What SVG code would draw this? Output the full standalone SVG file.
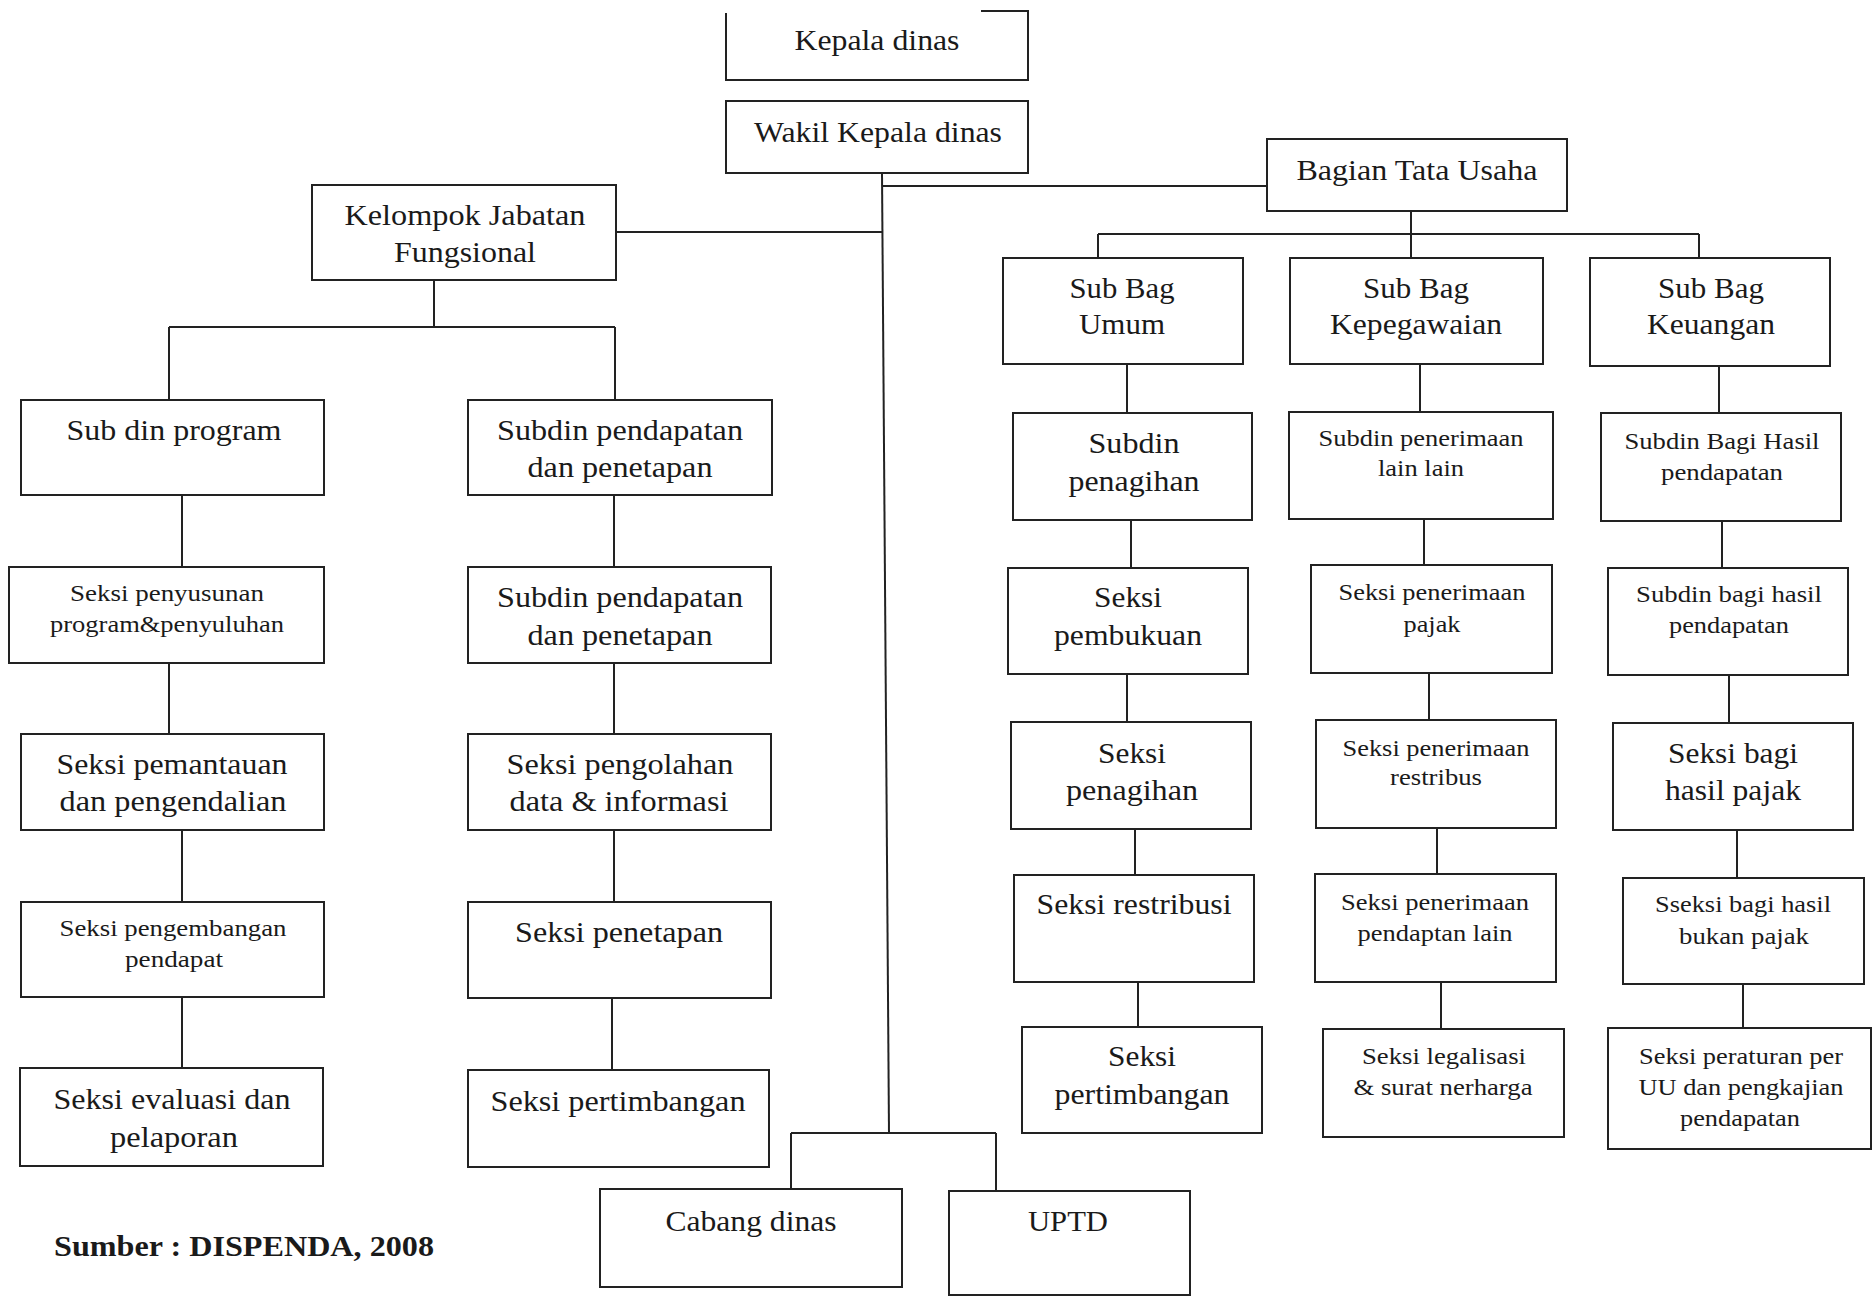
<svg xmlns="http://www.w3.org/2000/svg" width="1873" height="1297" viewBox="0 0 1873 1297">
<style>
.b{fill:#fff;stroke:#222;stroke-width:2}
.c{fill:none;stroke:#222;stroke-width:2}
text{font-family:"Liberation Serif","Times New Roman",serif;fill:#1a1a1a;text-anchor:middle}
.l{font-size:29px}
.s{font-size:23px}
.f{font-size:30px;font-weight:bold;text-anchor:start}
</style>
<rect width="1873" height="1297" fill="#fff"/>
<g id="connectors">
<path class="c" d="M882,173 L889,1133"/>
<path class="c" d="M882,186 H1267"/>
<path class="c" d="M616,232 H882"/>
<path class="c" d="M791,1133 H996 M791,1133 V1189 M996,1133 V1191"/>
<path class="c" d="M1411,211 V234 M1098,234 H1699 M1098,234 V258 M1411,234 V258 M1699,234 V258"/>
<path class="c" d="M1127,364 V413 M1131,520 V568 M1127,674 V722 M1135,829 V875 M1138,982 V1027"/>
<path class="c" d="M1420,364 V412 M1424,519 V565 M1429,673 V720 M1437,828 V874 M1441,982 V1029"/>
<path class="c" d="M1719,366 V413 M1722,521 V568 M1729,675 V723 M1737,830 V878 M1743,984 V1028"/>
<path class="c" d="M434,280 V327 M169,327 H615 M169,327 V400 M615,327 V400"/>
<path class="c" d="M182,495 V567 M169,663 V734 M182,830 V902 M182,997 V1068"/>
<path class="c" d="M614,495 V567 M614,663 V734 M614,830 V902 M612,998 V1070"/>
</g>
<g id="kepala"><path class="b" d="M981,11 H1028 V80 H726 V13"/><text class="l" x="877" y="50" textLength="165" lengthAdjust="spacingAndGlyphs">Kepala dinas</text></g>
<g id="wakil"><rect class="b" x="726" y="101" width="302" height="72"/><text class="l" x="878" y="142" textLength="248" lengthAdjust="spacingAndGlyphs">Wakil Kepala dinas</text></g>
<g id="bagian"><rect class="b" x="1267" y="139" width="300" height="72"/><text class="l" x="1417" y="180" textLength="241" lengthAdjust="spacingAndGlyphs">Bagian Tata Usaha</text></g>
<g id="kelompok"><rect class="b" x="312" y="185" width="304" height="95"/><text class="l" x="465" y="225" textLength="241" lengthAdjust="spacingAndGlyphs">Kelompok Jabatan</text><text class="l" x="465" y="262" textLength="142" lengthAdjust="spacingAndGlyphs">Fungsional</text></g>
<g id="subbag-umum"><rect class="b" x="1003" y="258" width="240" height="106"/><text class="l" x="1122" y="298" textLength="105" lengthAdjust="spacingAndGlyphs">Sub Bag</text><text class="l" x="1122" y="334" textLength="86" lengthAdjust="spacingAndGlyphs">Umum</text></g>
<g id="subbag-kepegawaian"><rect class="b" x="1290" y="258" width="253" height="106"/><text class="l" x="1416" y="298" textLength="106" lengthAdjust="spacingAndGlyphs">Sub Bag</text><text class="l" x="1416" y="334" textLength="172" lengthAdjust="spacingAndGlyphs">Kepegawaian</text></g>
<g id="subbag-keuangan"><rect class="b" x="1590" y="258" width="240" height="108"/><text class="l" x="1711" y="298" textLength="106" lengthAdjust="spacingAndGlyphs">Sub Bag</text><text class="l" x="1711" y="334" textLength="128" lengthAdjust="spacingAndGlyphs">Keuangan</text></g>
<g id="subdin-penagihan"><rect class="b" x="1013" y="413" width="239" height="107"/><text class="l" x="1134" y="453" textLength="91" lengthAdjust="spacingAndGlyphs">Subdin</text><text class="l" x="1134" y="491" textLength="131" lengthAdjust="spacingAndGlyphs">penagihan</text></g>
<g id="subdin-penerimaan"><rect class="b" x="1289" y="412" width="264" height="107"/><text class="s" x="1421" y="446" textLength="205" lengthAdjust="spacingAndGlyphs">Subdin penerimaan</text><text class="s" x="1421" y="476" textLength="86" lengthAdjust="spacingAndGlyphs">lain lain</text></g>
<g id="subdin-bagi-hasil"><rect class="b" x="1601" y="413" width="240" height="108"/><text class="s" x="1722" y="449" textLength="195" lengthAdjust="spacingAndGlyphs">Subdin Bagi Hasil</text><text class="s" x="1722" y="480" textLength="122" lengthAdjust="spacingAndGlyphs">pendapatan</text></g>
<g id="seksi-pembukuan"><rect class="b" x="1008" y="568" width="240" height="106"/><text class="l" x="1128" y="607" textLength="68" lengthAdjust="spacingAndGlyphs">Seksi</text><text class="l" x="1128" y="645" textLength="148" lengthAdjust="spacingAndGlyphs">pembukuan</text></g>
<g id="seksi-penerimaan-pajak"><rect class="b" x="1311" y="565" width="241" height="108"/><text class="s" x="1432" y="600" textLength="187" lengthAdjust="spacingAndGlyphs">Seksi penerimaan</text><text class="s" x="1432" y="632" textLength="57" lengthAdjust="spacingAndGlyphs">pajak</text></g>
<g id="subdin-bagi-hasil-2"><rect class="b" x="1608" y="568" width="240" height="107"/><text class="s" x="1729" y="602" textLength="186" lengthAdjust="spacingAndGlyphs">Subdin bagi hasil</text><text class="s" x="1729" y="633" textLength="120" lengthAdjust="spacingAndGlyphs">pendapatan</text></g>
<g id="seksi-penagihan"><rect class="b" x="1011" y="722" width="240" height="107"/><text class="l" x="1132" y="763" textLength="68" lengthAdjust="spacingAndGlyphs">Seksi</text><text class="l" x="1132" y="800" textLength="132" lengthAdjust="spacingAndGlyphs">penagihan</text></g>
<g id="seksi-penerimaan-restribus"><rect class="b" x="1316" y="720" width="240" height="108"/><text class="s" x="1436" y="756" textLength="187" lengthAdjust="spacingAndGlyphs">Seksi penerimaan</text><text class="s" x="1436" y="785" textLength="92" lengthAdjust="spacingAndGlyphs">restribus</text></g>
<g id="seksi-bagi-hasil-pajak"><rect class="b" x="1613" y="723" width="240" height="107"/><text class="l" x="1733" y="763" textLength="130" lengthAdjust="spacingAndGlyphs">Seksi bagi</text><text class="l" x="1733" y="800" textLength="136" lengthAdjust="spacingAndGlyphs">hasil pajak</text></g>
<g id="seksi-restribusi"><rect class="b" x="1014" y="875" width="240" height="107"/><text class="l" x="1134" y="914" textLength="195" lengthAdjust="spacingAndGlyphs">Seksi restribusi</text></g>
<g id="seksi-penerimaan-lain"><rect class="b" x="1315" y="874" width="241" height="108"/><text class="s" x="1435" y="910" textLength="188" lengthAdjust="spacingAndGlyphs">Seksi penerimaan</text><text class="s" x="1435" y="941" textLength="155" lengthAdjust="spacingAndGlyphs">pendaptan lain</text></g>
<g id="sseksi-bukan-pajak"><rect class="b" x="1623" y="878" width="241" height="106"/><text class="s" x="1743" y="912" textLength="176" lengthAdjust="spacingAndGlyphs">Sseksi bagi hasil</text><text class="s" x="1744" y="944" textLength="130" lengthAdjust="spacingAndGlyphs">bukan pajak</text></g>
<g id="seksi-pertimbangan-kanan"><rect class="b" x="1022" y="1027" width="240" height="106"/><text class="l" x="1142" y="1066" textLength="68" lengthAdjust="spacingAndGlyphs">Seksi</text><text class="l" x="1142" y="1104" textLength="175" lengthAdjust="spacingAndGlyphs">pertimbangan</text></g>
<g id="seksi-legalisasi"><rect class="b" x="1323" y="1029" width="241" height="108"/><text class="s" x="1444" y="1064" textLength="164" lengthAdjust="spacingAndGlyphs">Seksi legalisasi</text><text class="s" x="1443" y="1095" textLength="179" lengthAdjust="spacingAndGlyphs">&amp; surat nerharga</text></g>
<g id="seksi-peraturan"><rect class="b" x="1608" y="1028" width="263" height="121"/><text class="s" x="1741" y="1064" textLength="204" lengthAdjust="spacingAndGlyphs">Seksi peraturan per</text><text class="s" x="1741" y="1095" textLength="205" lengthAdjust="spacingAndGlyphs">UU dan pengkajian</text><text class="s" x="1740" y="1126" textLength="120" lengthAdjust="spacingAndGlyphs">pendapatan</text></g>
<g id="subdin-program"><rect class="b" x="21" y="400" width="303" height="95"/><text class="l" x="174" y="440" textLength="215" lengthAdjust="spacingAndGlyphs">Sub din program</text></g>
<g id="subdin-pendapatan"><rect class="b" x="468" y="400" width="304" height="95"/><text class="l" x="620" y="440" textLength="246" lengthAdjust="spacingAndGlyphs">Subdin pendapatan</text><text class="l" x="620" y="477" textLength="185" lengthAdjust="spacingAndGlyphs">dan penetapan</text></g>
<g id="seksi-penyusunan"><rect class="b" x="9" y="567" width="315" height="96"/><text class="s" x="167" y="601" textLength="194" lengthAdjust="spacingAndGlyphs">Seksi penyusunan</text><text class="s" x="167" y="632" textLength="234" lengthAdjust="spacingAndGlyphs">program&amp;penyuluhan</text></g>
<g id="subdin-pendapatan-2"><rect class="b" x="468" y="567" width="303" height="96"/><text class="l" x="620" y="607" textLength="246" lengthAdjust="spacingAndGlyphs">Subdin pendapatan</text><text class="l" x="620" y="645" textLength="185" lengthAdjust="spacingAndGlyphs">dan penetapan</text></g>
<g id="seksi-pemantauan"><rect class="b" x="21" y="734" width="303" height="96"/><text class="l" x="172" y="774" textLength="231" lengthAdjust="spacingAndGlyphs">Seksi pemantauan</text><text class="l" x="173" y="811" textLength="227" lengthAdjust="spacingAndGlyphs">dan pengendalian</text></g>
<g id="seksi-pengolahan"><rect class="b" x="468" y="734" width="303" height="96"/><text class="l" x="620" y="774" textLength="227" lengthAdjust="spacingAndGlyphs">Seksi pengolahan</text><text class="l" x="619" y="811" textLength="219" lengthAdjust="spacingAndGlyphs">data &amp; informasi</text></g>
<g id="seksi-pengembangan"><rect class="b" x="21" y="902" width="303" height="95"/><text class="s" x="173" y="936" textLength="227" lengthAdjust="spacingAndGlyphs">Seksi pengembangan</text><text class="s" x="174" y="967" textLength="98" lengthAdjust="spacingAndGlyphs">pendapat</text></g>
<g id="seksi-penetapan"><rect class="b" x="468" y="902" width="303" height="96"/><text class="l" x="619" y="942" textLength="208" lengthAdjust="spacingAndGlyphs">Seksi penetapan</text></g>
<g id="seksi-evaluasi"><rect class="b" x="20" y="1068" width="303" height="98"/><text class="l" x="172" y="1109" textLength="237" lengthAdjust="spacingAndGlyphs">Seksi evaluasi dan</text><text class="l" x="174" y="1147" textLength="128" lengthAdjust="spacingAndGlyphs">pelaporan</text></g>
<g id="seksi-pertimbangan-kiri"><rect class="b" x="468" y="1070" width="301" height="97"/><text class="l" x="618" y="1111" textLength="255" lengthAdjust="spacingAndGlyphs">Seksi pertimbangan</text></g>
<g id="cabang-dinas"><rect class="b" x="600" y="1189" width="302" height="98"/><text class="l" x="751" y="1231" textLength="171" lengthAdjust="spacingAndGlyphs">Cabang dinas</text></g>
<g id="uptd"><rect class="b" x="949" y="1191" width="241" height="104"/><text class="l" x="1068" y="1231" textLength="80" lengthAdjust="spacingAndGlyphs">UPTD</text></g>
<text class="f" x="54" y="1256" textLength="380" lengthAdjust="spacingAndGlyphs">Sumber : DISPENDA, 2008</text>
</svg>
